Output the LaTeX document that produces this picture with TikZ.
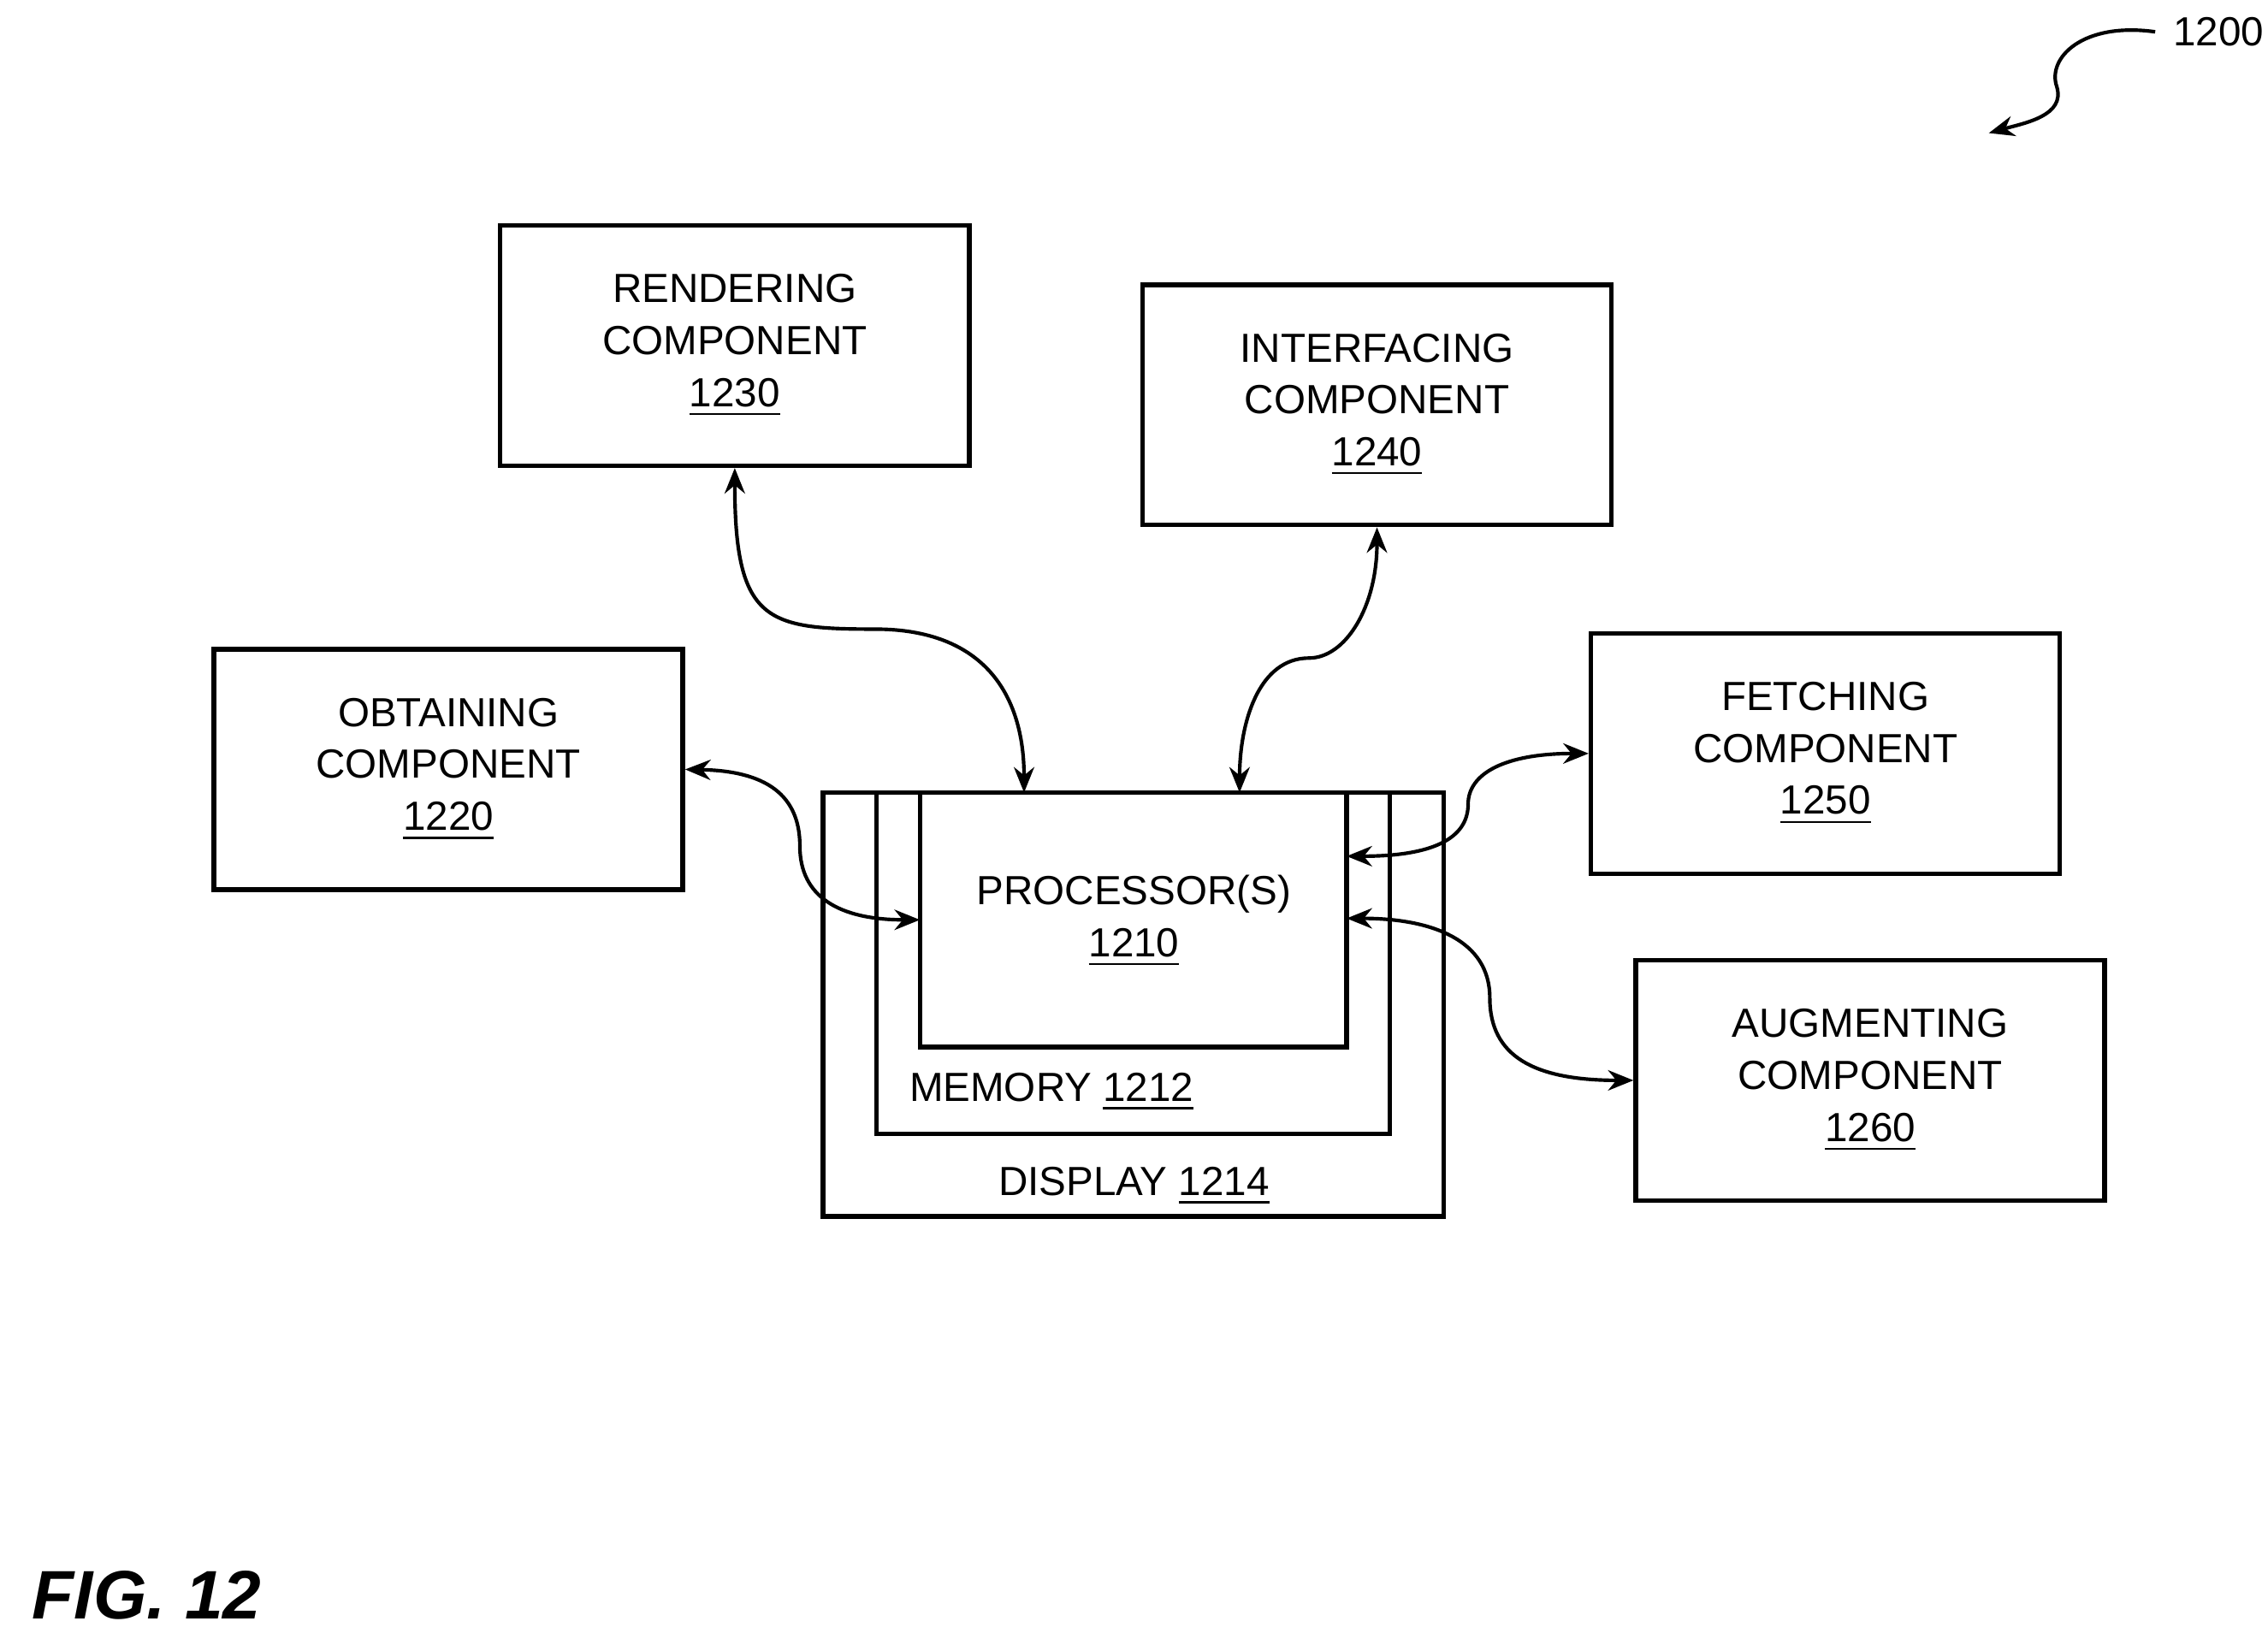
\documentclass[tikz,border=0pt]{standalone}
\usepackage{fontspec}
\setmainfont{Liberation Sans}
\usetikzlibrary{arrows.meta,positioning}
\begin{document}
\begin{tikzpicture}[
      x=0.01cm, y=-0.01cm,
      >={Stealth[length=5pt,width=4pt]},
      comp/.style={draw, line width=0.9pt, minimum width=3.24cm, minimum height=1.66cm, align=center, font=\fontsize{8}{10.2}\selectfont},
      frame/.style={draw, line width=0.9pt},
      link/.style={<->, line width=0.7pt}
    ]
    \useasboundingbox (0,0) rectangle (1568,1133);
    \node[comp] (rend) at (508,239) {RENDERING\\COMPONENT\\\underline{1230}};
    \node[comp] (iface) at (952,280) {INTERFACING\\COMPONENT\\\underline{1240}};
    \node[comp] (obtain) at (310,532) {OBTAINING\\COMPONENT\\\underline{1220}};
    \node[comp] (fetch) at (1262,521) {FETCHING\\COMPONENT\\\underline{1250}};
    \node[comp] (augment) at (1293,747) {AUGMENTING\\COMPONENT\\\underline{1260}};

    % display, memory and processor frames
    \draw[frame] (569,548) rectangle (998,841);
    \draw[frame] (606,548) -- (606,784) -- (961,784) -- (961,548);
    \draw[frame, fill=white] (636,548) rectangle (931,724);
    \node[font=\fontsize{8}{10.2}\selectfont, align=center] (proc) at (784,637) {PROCESSOR(S)\\\underline{1210}};
    \node[font=\fontsize{8}{10.2}\selectfont] (mem) at (727,755) {MEMORY \underline{1212}};
    \node[font=\fontsize{8}{10.2}\selectfont] (disp) at (784,820) {DISPLAY \underline{1214}};

    \coordinate (ptopA) at (708,548);
    \coordinate (ptopB) at (857,548);
    \coordinate (pleft) at (636,636);
    \coordinate (prightA) at (931,592);
    \coordinate (prightB) at (931,635);

    \draw[link] (rend.south) .. controls (508,430) and (530,435) .. (605,435) .. controls (680,435) and (708,480) .. (ptopA);
    \draw[link] (iface.south) .. controls (952,420) and (930,455) .. (905,455) .. controls (870,455) and (857,500) .. (ptopB);
    \draw[link] (obtain.east) .. controls (530,533) and (553,550) .. (553,585) .. controls (553,620) and (580,636) .. (pleft);
    \draw[link] (fetch.west) .. controls (1040,521) and (1015,535) .. (1015,556) .. controls (1015,580) and (990,592) .. (prightA);
    \draw[link] (augment.west) .. controls (1060,747) and (1030,730) .. (1030,690) .. controls (1030,650) and (990,635) .. (prightB);

    % reference numeral
    \node[font=\fontsize{8}{10}\selectfont, anchor=west] (ref) at (1490,22) {1200};
    \draw[->, line width=0.7pt] (ref.west) .. controls (1440,15) and (1415,40) .. (1422,60) .. controls (1428,80) and (1400,85) .. (1375,92);
    \node[font=\fontsize{13.5}{16}\selectfont\bfseries\itshape, anchor=west] (fig) at (10,1103) {FIG. 12};
\end{tikzpicture}
\end{document}
